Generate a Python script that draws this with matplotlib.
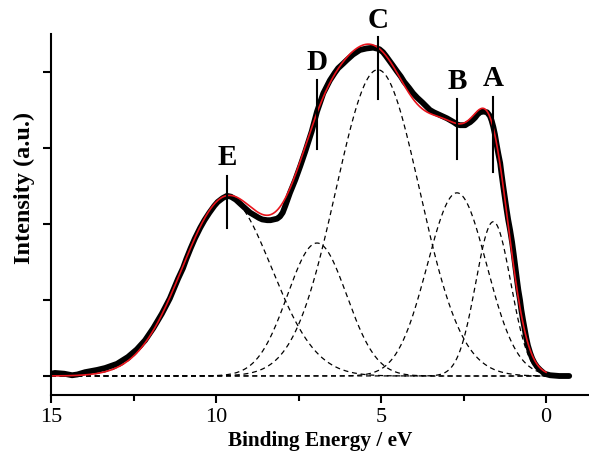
import numpy as np
import matplotlib
matplotlib.use("Agg")
import matplotlib.pyplot as plt

plt.rcParams['font.family'] = ['Liberation Serif', 'DejaVu Serif']

# Measured spectrum (binding energy in eV, intensity in a.u.)
energy = [15.0, 14.88, 14.6, 14.36, 14.2, 13.97, 13.6, 13.36, 13.0, 12.67, 12.4,
          12.15, 11.9, 11.64, 11.4, 11.15, 11.0, 10.9, 10.77, 10.64, 10.48, 10.35,
          10.2, 10.05, 9.95, 9.8, 9.67, 9.55, 9.4, 9.3, 9.2, 8.97, 8.7, 8.6, 8.45,
          8.35, 8.25, 8.15, 8.06, 7.98, 7.9, 7.76, 7.6, 7.45, 7.3, 7.1, 6.94, 6.75,
          6.55, 6.4, 6.3, 6.15, 6.03, 5.85, 5.64, 5.44, 5.24, 5.05, 4.94, 4.85,
          4.75, 4.65, 4.52, 4.4, 4.3, 4.15, 4.03, 3.9, 3.75, 3.52, 3.4, 3.25, 3.1,
          3.0, 2.8, 2.7, 2.61, 2.52, 2.45, 2.38, 2.3, 2.22, 2.15, 2.08, 2.0, 1.9,
          1.79, 1.7, 1.65, 1.6, 1.55, 1.5, 1.45, 1.39, 1.35, 1.3, 1.25, 1.2, 1.15,
          1.09, 1.03, 0.98, 0.93, 0.88, 0.84, 0.79, 0.75, 0.7, 0.65, 0.6, 0.55,
          0.48, 0.42, 0.35, 0.27, 0.18, 0.1, 0.05, -0.12, -0.4, -0.7]
intensity = [0.03, 0.04, 0.03, 0.01, 0.02, 0.05, 0.08, 0.105, 0.16, 0.25, 0.35,
             0.47, 0.63, 0.82, 1.02, 1.28, 1.42, 1.54, 1.68, 1.81, 1.95, 2.05,
             2.15, 2.24, 2.29, 2.34, 2.37, 2.36, 2.32, 2.28, 2.24, 2.15, 2.08, 2.06,
             2.05, 2.05, 2.06, 2.07, 2.10, 2.15, 2.24, 2.41, 2.58, 2.76, 2.95, 3.22,
             3.48, 3.72, 3.89, 3.99, 4.05, 4.11, 4.16, 4.23, 4.29, 4.31, 4.32, 4.30,
             4.26, 4.21, 4.15, 4.09, 4.01, 3.94, 3.87, 3.79, 3.72, 3.66, 3.60, 3.50,
             3.47, 3.44, 3.41, 3.39, 3.34, 3.31, 3.30, 3.30, 3.30, 3.32, 3.34, 3.37,
             3.40, 3.44, 3.47, 3.48, 3.47, 3.42, 3.36, 3.28, 3.18, 3.05, 2.93, 2.80,
             2.66, 2.50, 2.35, 2.20, 2.06, 1.92, 1.76, 1.60, 1.43, 1.26, 1.13, 1.0,
             0.87, 0.74, 0.62, 0.50, 0.40, 0.30, 0.23, 0.17, 0.12, 0.08, 0.05, 0.03,
             0.01, 0.0, 0.0]

# Gaussian fit components A..E
comp_names = ['A', 'B', 'C', 'D', 'E']
comp_centers = [1.6, 2.7, 5.1, 6.94, 9.67]
comp_heights = [2.03, 2.41, 4.03, 1.75, 2.35]
comp_sigmas = [0.53, 0.9, 1.27, 0.9, 1.35]

# Peak marker bars (energy, bottom, top) and label heights
mark_energy = [1.61, 2.70, 5.09, 6.94, 9.67]
mark_bottom = [2.68, 2.86, 3.64, 2.99, 1.95]
mark_top = [3.67, 3.64, 4.46, 3.89, 2.63]
label_y = [3.92, 3.87, 4.68, 4.12, 2.87]

x_ticks = [15, 10, 5, 0]
x_minor = [12.5, 7.5, 2.5]
y_ticks = [0, 1, 2, 3, 4]

fig = plt.figure(figsize=(5.89, 4.55), dpi=100)
ax = fig.add_axes([51/589, 1 - 395/455, 1 - 51/589, (395 - 34)/455])

xs = np.linspace(15, 0, 600)
fit = np.zeros_like(xs)
for c, h, s in zip(comp_centers, comp_heights, comp_sigmas):
    g = h * np.exp(-0.5 * ((xs - c) / s) ** 2)
    fit += g
    ax.plot(xs, g, color='black', lw=0.9, ls=(0, (4, 3)))

ax.plot(energy, intensity, color='black', lw=4.2, solid_capstyle='round',
        solid_joinstyle='round')
ax.plot(xs, fit, color='#e8141c', lw=1.2)

for name, e, b, t, ly in zip(comp_names, mark_energy, mark_bottom, mark_top, label_y):
    ax.plot([e, e], [b, t], color='black', lw=1.5)
    ax.text(e, ly, name, ha='center', va='center', fontsize=21, fontweight='bold')

ax.set_xlim(15, -1.3)
ax.set_ylim(-0.25, 4.5)
ax.set_xticks(x_ticks)
ax.set_xticklabels([str(t) for t in x_ticks], fontsize=16)
ax.set_xticks(x_minor, minor=True)
ax.set_yticks(y_ticks)
ax.set_yticklabels([])

for side in ['top', 'right']:
    ax.spines[side].set_visible(False)
for side in ['left', 'bottom']:
    ax.spines[side].set_linewidth(1.5)

ax.tick_params(axis='both', which='major', direction='out', length=6, width=1.5, pad=3.5)
ax.tick_params(axis='x', which='minor', direction='out', length=4.5, width=1.5)

ax.set_xlabel('Binding Energy / eV', fontsize=15.3, fontweight='bold', va='top')
ax.xaxis.set_label_coords(0.5, -0.1)
ax.set_ylabel('Intensity (a.u.)', fontsize=17.5, fontweight='bold')
ax.yaxis.set_label_coords(-0.03, 0.573)

fig.savefig('out.png', dpi=100)
